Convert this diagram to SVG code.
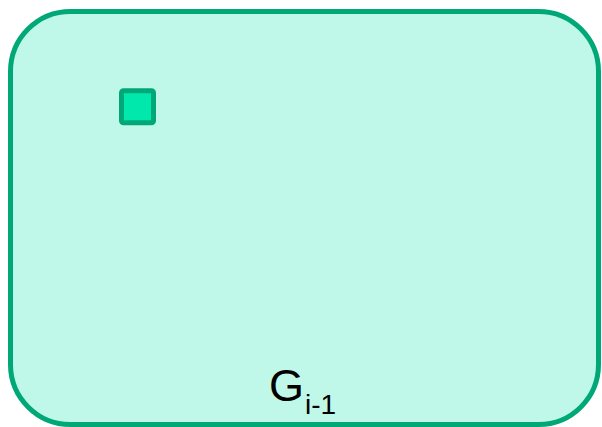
<svg xmlns="http://www.w3.org/2000/svg" width="602" height="427" viewBox="0 0 602 427">
<style>
.outer{fill:#bff8e8;stroke:#00a878;stroke-width:5}
.node{fill:#00e8ac;stroke:#00a878;stroke-width:5}
.lbl{font-family:"Liberation Sans",Arial,sans-serif;fill:#000}
</style>
<g id="graph">
<rect class="outer" x="10.5" y="11.5" width="588" height="413" rx="60" ry="60"/>
</g>
<g id="node1">
<rect class="node" x="121.5" y="90.8" width="32" height="32" rx="2"/>
</g>
<g id="connectors"></g>
<g id="label">
<text class="lbl" x="269" y="401" font-size="45">G<tspan font-size="28" dx="1" dy="13">i-1</tspan></text>
</g>
</svg>
